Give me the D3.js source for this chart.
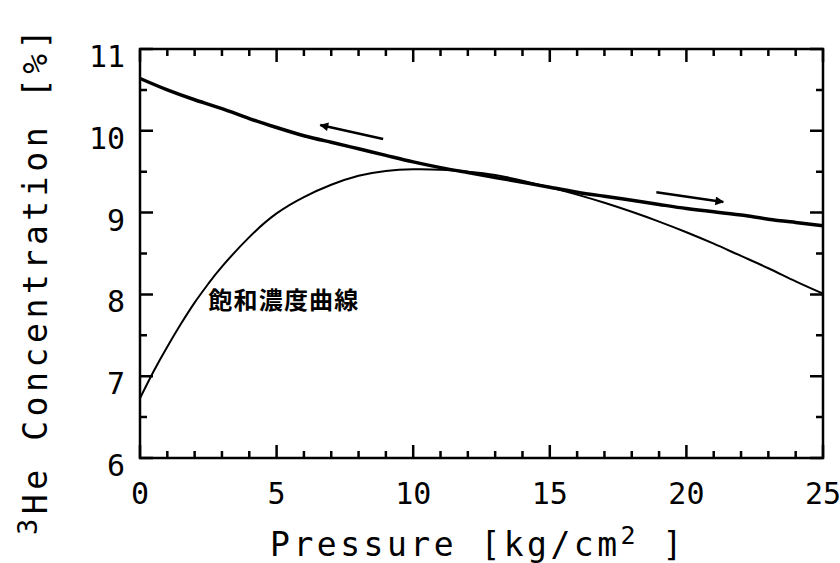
<!DOCTYPE html>
<html lang="ja">
<head>
<meta charset="UTF-8" />
<title>3He concentration vs pressure</title>
<script src="https://d3js.org/d3.v7.min.js"></script>
<style>
  body { margin: 0; background: #fff; }
  svg { display: block; }
  .frame { fill: none; stroke: #000; stroke-width: 2.5px; }
  .ticks { fill: none; stroke: #000; stroke-width: 2.5px; }
  .num { font-family: "DejaVu Sans Mono", monospace; font-size: 30px; fill: #000; }
  .title { font-family: "DejaVu Sans Mono", monospace; font-size: 33px; fill: #000; letter-spacing: 3.5px; }
  .ytitle { letter-spacing: 4.6px; }
  .sat { fill: none; stroke: #000; stroke-width: 2px; }
  .liq { fill: none; stroke: #000; stroke-width: 3.5px; }
  .arrow { stroke: #000; stroke-width: 2.5px; fill: none; }
  .label { font-family: "Noto Sans CJK TC", "Noto Sans CJK JP", sans-serif; font-size: 24px; font-weight: bold; fill: #000; letter-spacing: 1.2px; }
</style>
</head>
<body>
<svg width="840" height="563"></svg>
<script>
// saturation concentration curve (thin)
const satP = [0, 0.5, 1, 1.5, 2, 2.5, 3, 4, 5, 6, 7, 8, 9, 10, 11, 12, 13, 14, 15, 16, 17, 18, 19, 20, 21, 22, 23, 24, 25];
const satC = [6.73, 7.06, 7.36, 7.64, 7.90, 8.13, 8.34, 8.70, 8.99, 9.19, 9.34, 9.45, 9.51, 9.53, 9.525, 9.50, 9.46, 9.39, 9.31, 9.22, 9.12, 9.01, 8.89, 8.76, 8.62, 8.47, 8.32, 8.16, 8.01];

// concentration curve (thick)
const liqP = [0, 1, 2, 3, 4, 5, 6, 7, 8, 9, 10, 11, 12, 13, 14, 15, 16, 17, 18, 19, 20, 21, 22, 23, 24, 25];
const liqC = [10.64, 10.50, 10.38, 10.27, 10.15, 10.04, 9.94, 9.86, 9.78, 9.70, 9.62, 9.55, 9.49, 9.43, 9.37, 9.31, 9.25, 9.20, 9.15, 9.10, 9.05, 9.01, 8.97, 8.92, 8.88, 8.84];

// arrows: [fromP, fromC, toP, toC]
const arrows = [
  [8.9, 9.90, 6.6, 10.07],
  [18.9, 9.25, 21.35, 9.13]
];

const xTicks = [0, 5, 10, 15, 20, 25];
const yTicks = [6, 7, 8, 9, 10, 11];
const xMinorTicks = d3.range(0, 26, 1);
const yMinorTicks = d3.range(6, 11.01, 0.5);
const curveLabel = "飽和濃度曲線";
const labelPos = [2.5, 7.93];

const svg = d3.select("svg");
const mLeft = 140, mRight = 823, mTop = 49, mBottom = 458;

const x = d3.scaleLinear().domain([0, 25]).range([mLeft, mRight]);
const y = d3.scaleLinear().domain([6, 11]).range([mBottom, mTop]);

svg.append("defs").append("marker")
  .attr("id", "head")
  .attr("viewBox", "0 0 10 10")
  .attr("refX", 9).attr("refY", 5)
  .attr("markerWidth", 5).attr("markerHeight", 3.5)
  .attr("markerUnits", "strokeWidth")
  .attr("orient", "auto")
  .append("path").attr("d", "M0,0 L10,5 L0,10 z").attr("fill", "#000");

// inward ticks on all four sides, one path
const tp = d3.path();
xMinorTicks.forEach(v => {
  const L = v % 5 === 0 ? 13 : 7;
  tp.moveTo(x(v), mBottom); tp.lineTo(x(v), mBottom - L);
  tp.moveTo(x(v), mTop); tp.lineTo(x(v), mTop + L);
});
yMinorTicks.forEach(v => {
  const L = Number.isInteger(v) ? 13 : 7;
  tp.moveTo(mLeft, y(v)); tp.lineTo(mLeft + L, y(v));
  tp.moveTo(mRight, y(v)); tp.lineTo(mRight - L, y(v));
});
svg.append("path").attr("class", "ticks").attr("d", tp.toString());

svg.append("rect").attr("class", "frame")
  .attr("x", mLeft).attr("y", mTop)
  .attr("width", mRight - mLeft).attr("height", mBottom - mTop);

// tick labels
svg.append("g").selectAll("text").data(xTicks).join("text")
  .attr("class", "num")
  .attr("x", d => x(d)).attr("y", 504)
  .attr("text-anchor", "middle")
  .text(d => d);

svg.append("g").selectAll("text").data(yTicks).join("text")
  .attr("class", "num")
  .attr("x", 125).attr("y", d => y(d) + 18)
  .attr("text-anchor", "end")
  .text(d => d);

// curves
const line = (px, cy) => d3.line()
  .x(i => x(px[i])).y(i => y(cy[i]))
  .curve(d3.curveNatural)(d3.range(px.length));

svg.append("path").attr("class", "liq").attr("d", line(liqP, liqC));
svg.append("path").attr("class", "sat").attr("d", line(satP, satC));

svg.append("g").selectAll("line").data(arrows).join("line")
  .attr("class", "arrow")
  .attr("x1", d => x(d[0])).attr("y1", d => y(d[1]))
  .attr("x2", d => x(d[2])).attr("y2", d => y(d[3]))
  .attr("marker-end", "url(#head)");

svg.append("text").attr("class", "label")
  .attr("x", x(labelPos[0])).attr("y", y(labelPos[1]) + 9)
  .text(curveLabel);

// axis titles
const xt = svg.append("text").attr("class", "title")
  .attr("x", 478).attr("y", 556).attr("text-anchor", "middle");
xt.append("tspan").text("Pressure [kg/cm");
xt.append("tspan").attr("dy", -12).style("font-size", "25px").text("2");
xt.append("tspan").attr("dy", 12).text(" ]");

const yt = svg.append("text").attr("class", "title ytitle")
  .attr("transform", "translate(47,280) rotate(-90)")
  .attr("text-anchor", "middle");
yt.append("tspan").attr("dy", -10).style("font-size", "27px").text("3");
yt.append("tspan").attr("dy", 10).text("He Concentration  [%]");
</script>
</body>
</html>
